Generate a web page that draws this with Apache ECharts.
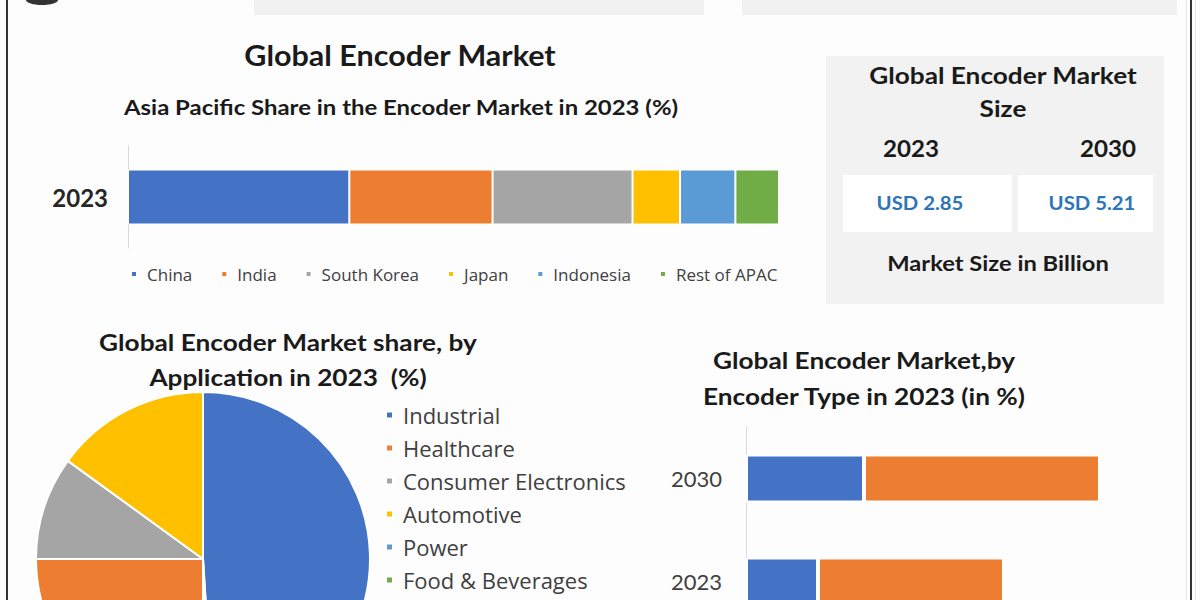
<!DOCTYPE html>
<html>
<head>
<meta charset="utf-8">
<script src="https://cdn.jsdelivr.net/npm/echarts@6/dist/echarts.min.js"></script>
<style>
html,body{margin:0;padding:0;background:#fdfdfd;width:1200px;height:600px;overflow:hidden;}
#main{width:1200px;height:700px;}
</style>
</head>
<body>
<div id="main"></div>
<script>
// ---- Data ----
const apacYear = ['2023'];
const apacRegions = ['China', 'India', 'South Korea', 'Japan', 'Indonesia', 'Rest of APAC'];
const apacShares = [34, 22, 21.5, 7.3, 8.5, 6.7];

const appNames = ['Industrial', 'Healthcare', 'Consumer Electronics', 'Automotive', 'Power', 'Food & Beverages'];
const appShares = [49, 25, 10, 15, 0.5, 0.5];
const appSliceOrder = [0, 4, 5, 1, 2, 3]; // clockwise drawing order from 12 o'clock

const typeYears = ['2023', '2030'];
const typeNames = ['Rotary', 'Linear'];
const typeRotary = [18, 29.5];
const typeLinear = [46.5, 59];

const marketYears = ['2023', '2030'];
const marketSizes = ['USD 2.85', 'USD 5.21'];

// ---- Styles ----
const palette = ['#4472C4', '#ED7D31', '#A5A5A5', '#FFC000', '#5B9BD5', '#70AD47'];
const FONT = 'Lato, "Open Sans", sans-serif';
const FONT2 = '"Open Sans", Lato, sans-serif';

const chart = echarts.init(document.getElementById('main'), null, {renderer: 'svg'});

function txt(x, y, text, size, sx, opts) {
  opts = opts || {};
  return {
    type: 'text', x: x, y: y, z: 10, scaleX: sx || 1,
    style: {
      text: text,
      font: (opts.weight || 'bold') + ' ' + size + 'px ' + FONT,
      fill: opts.color || '#1a1a1a',
      textAlign: 'center',
      textVerticalAlign: 'middle'
    }
  };
}

const apacSeries = apacRegions.map((r, i) => ({
  name: r, type: 'bar', stack: 'apac', xAxisIndex: 0, yAxisIndex: 0,
  data: [apacShares[i]], barWidth: 55,
  itemStyle: {color: palette[i], borderColor: '#ffffff', borderWidth: 1}
}));

const pieData = appSliceOrder.map(i => ({
  name: appNames[i], value: appShares[i], itemStyle: {color: palette[i]}
}));

const typeSeries = [
  {name: typeNames[0], type: 'bar', stack: 'type', xAxisIndex: 1, yAxisIndex: 1, data: typeRotary, barWidth: 48,
   itemStyle: {color: palette[0], borderColor: '#ffffff', borderWidth: 2}},
  {name: typeNames[1], type: 'bar', stack: 'type', xAxisIndex: 1, yAxisIndex: 1, data: typeLinear, barWidth: 48,
   itemStyle: {color: palette[1], borderColor: '#ffffff', borderWidth: 2}}
];

const option = {
  animation: false,
  backgroundColor: '#fdfdfd',
  color: palette,
  grid: [
    {left: 128, top: 146, width: 651, height: 102},
    {left: 746, top: 427, width: 400, height: 206}
  ],
  xAxis: [
    {type: 'value', gridIndex: 0, min: 0, max: 100, show: false},
    {type: 'value', gridIndex: 1, min: 0, max: 100, show: false}
  ],
  yAxis: [
    {type: 'category', gridIndex: 0, data: apacYear,
     axisLine: {show: true, lineStyle: {color: '#d9d9d9', width: 1}},
     axisTick: {show: false},
     axisLabel: {margin: 20, fontFamily: FONT, fontSize: 24, fontWeight: 'bold', color: '#262626'}},
    {type: 'category', gridIndex: 1, data: typeYears,
     axisLine: {show: true, lineStyle: {color: '#d9d9d9', width: 1}},
     axisTick: {show: false},
     axisLabel: {margin: 24, fontFamily: FONT, fontSize: 22, color: '#404040'}}
  ],
  legend: [
    {data: apacRegions, left: 130, top: 265, padding: 0, orient: 'horizontal', icon: 'rect',
     itemWidth: 6, itemHeight: 6, itemGap: 28,
     textStyle: {fontFamily: FONT2, fontSize: 17, color: '#404040', lineHeight: 18, padding: [0, 0, 0, 5]}},
    {data: appNames, left: 385, top: 404, padding: 0, orient: 'vertical', icon: 'rect',
     itemWidth: 7, itemHeight: 7, itemGap: 11,
     textStyle: {fontFamily: FONT2, fontSize: 22, color: '#404040', lineHeight: 22, padding: [0, 0, 0, 5]}}
  ],
  series: apacSeries.concat([
    {name: 'Application', type: 'pie', center: [203, 559], radius: 167,
     startAngle: 90, clockwise: true, label: {show: false}, labelLine: {show: false},
     itemStyle: {borderColor: '#ffffff', borderWidth: 2},
     data: pieData}
  ]).concat(typeSeries),
  graphic: [
    // frame
    {type: 'rect', shape: {x: 6, y: 0, width: 2, height: 600}, style: {fill: '#333'}},
    {type: 'rect', shape: {x: 1190, y: 0, width: 2, height: 600}, style: {fill: '#333'}},
    {type: 'rect', shape: {x: 1186, y: 0, width: 1, height: 600}, style: {fill: '#e6e6e6'}},
    {type: 'rect', shape: {x: 1195, y: 0, width: 1, height: 600}, style: {fill: '#e6e6e6'}},
    // top banner remnants
    {type: 'rect', shape: {x: 254, y: 0, width: 450, height: 15}, style: {fill: '#f1f1f1'}},
    {type: 'rect', shape: {x: 742, y: 0, width: 435, height: 15}, style: {fill: '#f1f1f1'}},
    {type: 'ellipse', shape: {cx: 42, cy: 0, rx: 16, ry: 5}, style: {fill: '#333'}},
    // market size panel
    {type: 'rect', shape: {x: 826, y: 56, width: 338, height: 248}, style: {fill: '#f2f2f2'}},
    {type: 'rect', shape: {x: 843, y: 175, width: 169, height: 57}, style: {fill: '#ffffff'}},
    {type: 'rect', shape: {x: 1018, y: 175, width: 135, height: 57}, style: {fill: '#ffffff'}},
    txt(1003, 75, 'Global Encoder Market', 23, 1.14),
    txt(1003, 108, 'Size', 23, 1.14),
    txt(911, 148, marketYears[0], 23, 1.05),
    txt(1108, 148, marketYears[1], 23, 1.05),
    txt(920, 203, marketSizes[0], 18, 1.13, {color: '#2e75b6'}),
    txt(1092, 203, marketSizes[1], 18, 1.13, {color: '#2e75b6'}),
    txt(998, 263, 'Market Size in Billion', 21, 1.13),
    // headings
    txt(400, 55, 'Global Encoder Market', 28, 1.09),
    txt(401, 107, 'Asia Pacific Share in the Encoder Market in 2023 (%)', 21, 1.14),
    txt(288, 342, 'Global Encoder Market share, by', 23, 1.14),
    txt(288, 377, 'Application in 2023  (%)', 23, 1.14),
    txt(864, 360, 'Global Encoder Market,by', 23, 1.14),
    txt(864, 396, 'Encoder Type in 2023 (in %)', 23, 1.14)
  ]
};
chart.setOption(option);
</script>
</body>
</html>
